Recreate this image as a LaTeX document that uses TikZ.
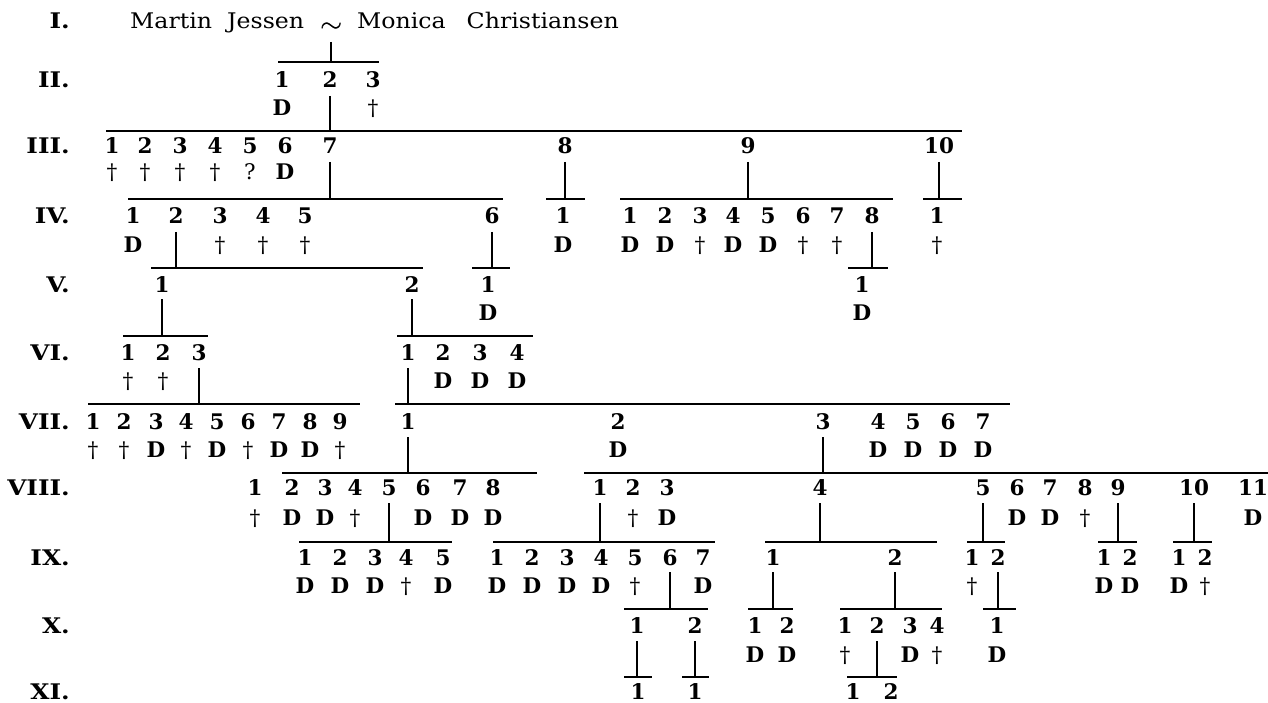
\documentclass[tikz,border=0pt]{standalone}
\usepackage{fontspec}
\usepackage{graphicx}
\setmainfont{DejaVu Serif}
\newcommand\fs{\fontsize{21.5}{25}\selectfont}
\newcommand\Db{{\bfseries D}}
\newcommand\gl[1]{\scalebox{1.15}[1]{#1}}
\newcommand\namew[1]{\scalebox{1.1}[1]{#1}}
\tikzset{
  num/.style={font=\fs\bfseries, anchor=base, inner sep=0pt},
  mk/.style={font=\fs, anchor=base, inner sep=0pt},
  nm/.style={font=\fs, anchor=base west, inner sep=0pt},
  gen/.style={font=\fs\bfseries, anchor=base east, inner sep=0pt},
  ln/.style={line width=1.1pt},
  bar/.style={line width=1.3pt},
}
\begin{document}
\begin{tikzpicture}[x=1pt,y=-1pt]
\fill[white] (0,0) rectangle (1268,703);
\useasboundingbox (0,0) rectangle (1268,703);
% generation labels
\foreach \g/\y [count=\i] in {I./29,II./88,III./154,IV./224,V./292,VI./360,VII./429,VIII./495,IX./565,X./633,XI./699}
  \node[gen] (gen\i) at (70,\y) {\gl{\g}};
% I
\node[nm] (w1) at (130,29) {\namew{Martin}};
\node[nm] (w2) at (227,29) {\namew{Jessen}};
\node[inner sep=0pt] (sim) at (331,28) {\scalebox{1.35}[1.25]{\fs$\sim$}};
\node[inner sep=0pt] (sim2) at (331.5,28) {\scalebox{1.35}[1.25]{\fs$\sim$}};
\node[nm] (w3) at (357,29) {\namew{Monica}};
\node[anchor=base east, font=\fs, inner sep=0pt] (w4) at (619,29) {\namew{Christiansen}};
\draw[ln] (sim |- 0,42) -- (sim |- 0,62);
\draw[bar] (278,62) -- (379,62);
% II
\foreach \x [count=\i] in {282,330,373} \node[num] (n2-\i) at (\x,88) {\i};
\node[mk] (m2-1) at (282,116) {\Db};
\node[mk] (m2-3) at (373,116) {†};
\draw[ln] (n2-2 |- 0,96) -- (n2-2 |- 0,131);
\draw[bar] (106,131) -- (962,131);
% III
\foreach \x [count=\i] in {112,145,180,215,250,285,330,565,748,939} \node[num] (n3-\i) at (\x,154) {\i};
\foreach \x/\s [count=\i] in {112/†,145/†,180/†,215/†,250/?,285/\Db} \node[mk] (m3-\i) at (\x,180) {\s};
\foreach \k in {7,8,9,10} \draw[ln] (n3-\k |- 0,162) -- (n3-\k |- 0,199);
\draw[bar] (128,199) -- (503,199);
\draw[bar] (546,199) -- (585,199);
\draw[bar] (620,199) -- (893,199);
\draw[bar] (923,199) -- (962,199);
% IV
\foreach \x [count=\i] in {133,176,220,263,305,492} \node[num] (n4a-\i) at (\x,224) {\i};
\node[num] (n4b-1) at (563,224) {1};
\foreach \x [count=\i] in {630,665,700,733,768,803,837,872} \node[num] (n4c-\i) at (\x,224) {\i};
\node[num] (n4d-1) at (937,224) {1};
\foreach \x/\s [count=\i] in {133/\Db,220/†,263/†,305/†} \node[mk] (m4a-\i) at (\x,253) {\s};
\node[mk] (m4b-1) at (563,253) {\Db};
\foreach \x/\s [count=\i] in {630/\Db,665/\Db,700/†,733/\Db,768/\Db,803/†,837/†} \node[mk] (m4c-\i) at (\x,253) {\s};
\node[mk] (m4d-1) at (937,253) {†};
\foreach \k in {n4a-2,n4a-6,n4c-8} \draw[ln] (\k |- 0,232) -- (\k |- 0,268);
\draw[bar] (151,268) -- (423,268);
\draw[bar] (472,268) -- (510,268);
\draw[bar] (848,268) -- (888,268);
% V
\node[num] (n5a-1) at (162,292) {1};
\node[num] (n5a-2) at (412,292) {2};
\node[num] (n5b-1) at (488,292) {1};
\node[num] (n5c-1) at (862,292) {1};
\node[mk] (m5b-1) at (488,320) {\Db};
\node[mk] (m5c-1) at (862,320) {\Db};
\foreach \k in {n5a-1,n5a-2} \draw[ln] (\k |- 0,299) -- (\k |- 0,336);
\draw[bar] (123,336) -- (208,336);
\draw[bar] (397,336) -- (533,336);
% VI
\foreach \x [count=\i] in {128,163,199} \node[num] (n6a-\i) at (\x,360) {\i};
\foreach \x [count=\i] in {408,443,480,517} \node[num] (n6b-\i) at (\x,360) {\i};
\foreach \x/\s [count=\i] in {128/†,163/†} \node[mk] (m6a-\i) at (\x,388) {\s};
\foreach \x/\s [count=\i] in {443/\Db,480/\Db,517/\Db} \node[mk] (m6b-\i) at (\x,388) {\s};
\foreach \k in {n6a-3,n6b-1} \draw[ln] (\k |- 0,368) -- (\k |- 0,404);
\draw[bar] (88,404) -- (360,404);
\draw[bar] (395,404) -- (1010,404);
% VII
\foreach \x [count=\i] in {93,124,156,186,217,248,279,310,340} \node[num] (n7a-\i) at (\x,429) {\i};
\foreach \x [count=\i] in {408,618,823,878,913,948,983} \node[num] (n7b-\i) at (\x,429) {\i};
\foreach \x/\s [count=\i] in {93/†,124/†,156/\Db,186/†,217/\Db,248/†,279/\Db,310/\Db,340/†} \node[mk] (m7a-\i) at (\x,457) {\s};
\foreach \x/\s [count=\i] in {618/\Db,878/\Db,913/\Db,948/\Db,983/\Db} \node[mk] (m7b-\i) at (\x,457) {\s};
\foreach \k in {n7b-1,n7b-3} \draw[ln] (\k |- 0,437) -- (\k |- 0,473);
\draw[bar] (282,473) -- (537,473);
\draw[bar] (584,473) -- (1268,473);
% VIII
\foreach \x [count=\i] in {255,292,325,355,389,423,460,493} \node[num] (n8a-\i) at (\x,495) {\i};
\foreach \x [count=\i] in {600,633,667,820,983,1017,1050,1085,1118,1194,1253} \node[num] (n8b-\i) at (\x,495) {\i};
\foreach \x/\s [count=\i] in {255/†,292/\Db,325/\Db,355/†,423/\Db,460/\Db,493/\Db} \node[mk] (m8a-\i) at (\x,525) {\s};
\foreach \x/\s [count=\i] in {633/†,667/\Db,1017/\Db,1050/\Db,1085/†,1253/\Db} \node[mk] (m8b-\i) at (\x,525) {\s};
\foreach \k in {n8a-5,n8b-1,n8b-4,n8b-5,n8b-9,n8b-10} \draw[ln] (\k |- 0,503) -- (\k |- 0,542);
\draw[bar] (299,542) -- (452,542);
\draw[bar] (493,542) -- (715,542);
\draw[bar] (765,542) -- (937,542);
\draw[bar] (967,542) -- (1005,542);
\draw[bar] (1098,542) -- (1137,542);
\draw[bar] (1173,542) -- (1212,542);
% IX
\foreach \x [count=\i] in {305,340,375,406,443} \node[num] (n9a-\i) at (\x,565) {\i};
\foreach \x [count=\i] in {497,532,567,601,635,670,703} \node[num] (n9b-\i) at (\x,565) {\i};
\foreach \x [count=\i] in {773,895} \node[num] (n9c-\i) at (\x,565) {\i};
\foreach \x [count=\i] in {972,998} \node[num] (n9d-\i) at (\x,565) {\i};
\foreach \x [count=\i] in {1104,1130} \node[num] (n9e-\i) at (\x,565) {\i};
\foreach \x [count=\i] in {1179,1205} \node[num] (n9f-\i) at (\x,565) {\i};
\foreach \x/\s [count=\i] in {305/\Db,340/\Db,375/\Db,406/†,443/\Db} \node[mk] (m9a-\i) at (\x,593) {\s};
\foreach \x/\s [count=\i] in {497/\Db,532/\Db,567/\Db,601/\Db,635/†,703/\Db} \node[mk] (m9b-\i) at (\x,593) {\s};
\node[mk] (m9d-1) at (972,593) {†};
\foreach \x/\s [count=\i] in {1104/\Db,1130/\Db,1179/\Db,1205/†} \node[mk] (m9e-\i) at (\x,593) {\s};
\foreach \k in {n9b-6,n9c-1,n9c-2,n9d-2} \draw[ln] (\k |- 0,572) -- (\k |- 0,609);
\draw[bar] (624,609) -- (708,609);
\draw[bar] (748,609) -- (793,609);
\draw[bar] (840,609) -- (942,609);
\draw[bar] (983,609) -- (1016,609);
% X
\foreach \x [count=\i] in {637,695} \node[num] (n10a-\i) at (\x,633) {\i};
\foreach \x [count=\i] in {755,787} \node[num] (n10b-\i) at (\x,633) {\i};
\foreach \x [count=\i] in {845,877,910,937} \node[num] (n10c-\i) at (\x,633) {\i};
\node[num] (n10d-1) at (997,633) {1};
\foreach \x/\s [count=\i] in {755/\Db,787/\Db,845/†,910/\Db,937/†,997/\Db} \node[mk] (m10-\i) at (\x,662) {\s};
\foreach \k in {n10a-1,n10a-2,n10c-2} \draw[ln] (\k |- 0,641) -- (\k |- 0,677);
\draw[bar] (624,677) -- (652,677);
\draw[bar] (682,677) -- (709,677);
\draw[bar] (847,677) -- (897,677);
% XI
\node[num] (n11a-1) at (638,699) {1};
\node[num] (n11b-1) at (695,699) {1};
\node[num] (n11c-1) at (853,699) {1};
\node[num] (n11c-2) at (891,699) {2};
\end{tikzpicture}
\end{document}
